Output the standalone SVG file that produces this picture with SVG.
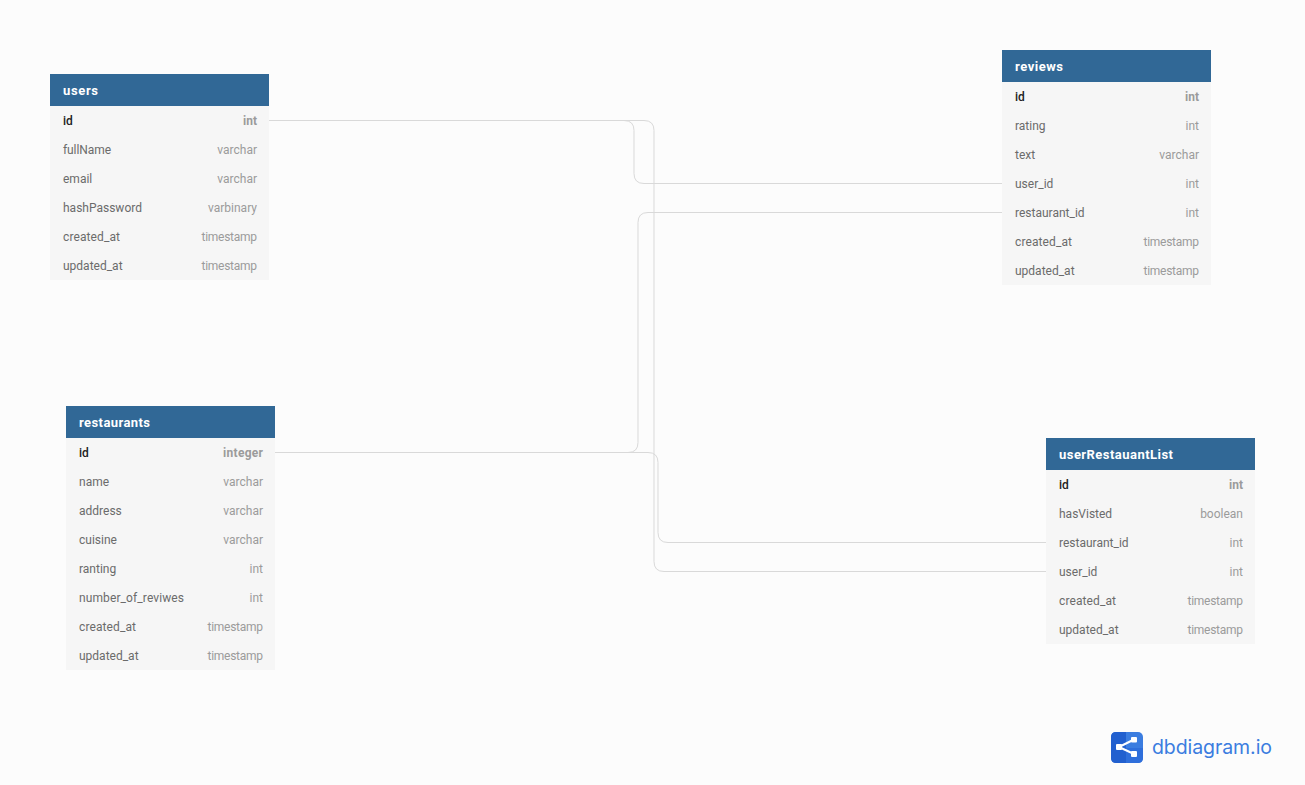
<svg xmlns="http://www.w3.org/2000/svg" width="1305" height="785" viewBox="0 0 1305 785">
<style>
text{font-family:Roboto,"Liberation Sans",sans-serif;font-size:12px}
.hd{fill:#316896}
.bd{fill:#f6f6f6}
.ht{fill:#fff;font-weight:700;font-size:13px}
.n{fill:#6b6b6b}
.t{fill:#9b9b9b;text-anchor:end}
.pk{fill:#222;font-weight:500}
.pt{fill:#9b9b9b;font-weight:700;text-anchor:end}
.c{fill:none;stroke:#d9d9d9;stroke-width:1}
</style>
<rect width="1305" height="785" fill="#fcfcfc"/>
<g id="connectors">
<path class="c" d="M269 120.5H624Q634 120.5 634 130.500V173.500Q634 183.500 644 183.500H1002"/>
<path class="c" d="M269 120.5H644Q654 120.500 654 130.500V561.500Q654 571.500 664 571.500H1046"/>
<path class="c" d="M275 452.500H628Q638 452.500 638 442.500V222.500Q638 212.500 648 212.500H1002"/>
<path class="c" d="M275 452.500H648Q658 452.500 658 462.500V532.500Q658 542.500 668 542.500H1046"/>
</g>
<g id="users">
<rect class="bd" x="50" y="106" width="219" height="174"/>
<rect class="hd" x="50" y="74" width="219" height="32"/>
<text class="ht" x="63" y="95" textLength="35">users</text>
<text class="pk" x="63" y="125">id</text><text class="pt" x="257" y="125">int</text>
<text class="n" x="63" y="154" textLength="48">fullName</text><text class="t" x="257" y="154">varchar</text>
<text class="n" x="63" y="183">email</text><text class="t" x="257" y="183">varchar</text>
<text class="n" x="63" y="212">hashPassword</text><text class="t" x="257" y="212">varbinary</text>
<text class="n" x="63" y="241" textLength="57">created_at</text><text class="t" x="257" y="241" textLength="55.500">timestamp</text>
<text class="n" x="63" y="270">updated_at</text><text class="t" x="257" y="270" textLength="55.500">timestamp</text>
</g>
<g id="restaurants">
<rect class="bd" x="66" y="438" width="209" height="232"/>
<rect class="hd" x="66" y="406" width="209" height="32"/>
<text class="ht" x="79" y="427" textLength="71">restaurants</text>
<text class="pk" x="79" y="457">id</text><text class="pt" x="263" y="457" textLength="40">integer</text>
<text class="n" x="79" y="486">name</text><text class="t" x="263" y="486">varchar</text>
<text class="n" x="79" y="515">address</text><text class="t" x="263" y="515">varchar</text>
<text class="n" x="79" y="544">cuisine</text><text class="t" x="263" y="544">varchar</text>
<text class="n" x="79" y="573">ranting</text><text class="t" x="263" y="573">int</text>
<text class="n" x="79" y="602" textLength="105">number_of_reviwes</text><text class="t" x="263" y="602">int</text>
<text class="n" x="79" y="631" textLength="57">created_at</text><text class="t" x="263" y="631" textLength="55.500">timestamp</text>
<text class="n" x="79" y="660">updated_at</text><text class="t" x="263" y="660" textLength="55.500">timestamp</text>
</g>
<g id="reviews">
<rect class="bd" x="1002" y="82" width="209" height="203"/>
<rect class="hd" x="1002" y="50" width="209" height="32"/>
<text class="ht" x="1015" y="71" textLength="48">reviews</text>
<text class="pk" x="1015" y="101">id</text><text class="pt" x="1199" y="101">int</text>
<text class="n" x="1015" y="130">rating</text><text class="t" x="1199" y="130">int</text>
<text class="n" x="1015" y="159">text</text><text class="t" x="1199" y="159">varchar</text>
<text class="n" x="1015" y="188">user_id</text><text class="t" x="1199" y="188">int</text>
<text class="n" x="1015" y="217">restaurant_id</text><text class="t" x="1199" y="217">int</text>
<text class="n" x="1015" y="246" textLength="57">created_at</text><text class="t" x="1199" y="246" textLength="55.500">timestamp</text>
<text class="n" x="1015" y="275">updated_at</text><text class="t" x="1199" y="275" textLength="55.500">timestamp</text>
</g>
<g id="userRestauantList">
<rect class="bd" x="1046" y="470" width="209" height="174"/>
<rect class="hd" x="1046" y="438" width="209" height="32"/>
<text class="ht" x="1059" y="459" textLength="114">userRestauantList</text>
<text class="pk" x="1059" y="489">id</text><text class="pt" x="1243" y="489">int</text>
<text class="n" x="1059" y="518">hasVisted</text><text class="t" x="1243" y="518">boolean</text>
<text class="n" x="1059" y="547">restaurant_id</text><text class="t" x="1243" y="547">int</text>
<text class="n" x="1059" y="576">user_id</text><text class="t" x="1243" y="576">int</text>
<text class="n" x="1059" y="605" textLength="57">created_at</text><text class="t" x="1243" y="605" textLength="55.500">timestamp</text>
<text class="n" x="1059" y="634">updated_at</text><text class="t" x="1243" y="634" textLength="55.500">timestamp</text>
</g>
<g id="logo">
<rect x="1111" y="732" width="32" height="31" rx="5" fill="#3b7de0"/>
<path d="M1126 748H1143V758Q1143 763 1138 763H1126Z" fill="#2f6fdb"/>
<path d="M1116 732H1126V763H1116Q1111 763 1111 758V737Q1111 732 1116 732Z" fill="#2260cf"/>
<path d="M1119 747L1134 739.500M1119 747L1134 754" stroke="#fff" stroke-width="2" fill="none"/>
<rect x="1116" y="744" width="6" height="6" rx="1" fill="#fff"/>
<rect x="1131" y="737" width="6" height="5.500" rx="1" fill="#fff"/>
<rect x="1131" y="751" width="6" height="6" rx="1" fill="#fff"/>
<text x="1152" y="754" textLength="120" style="font-family:Inter,'Open Sans',sans-serif;font-size:19.500px;fill:#3b7de0">dbdiagram.io</text>
</g>
</svg>
